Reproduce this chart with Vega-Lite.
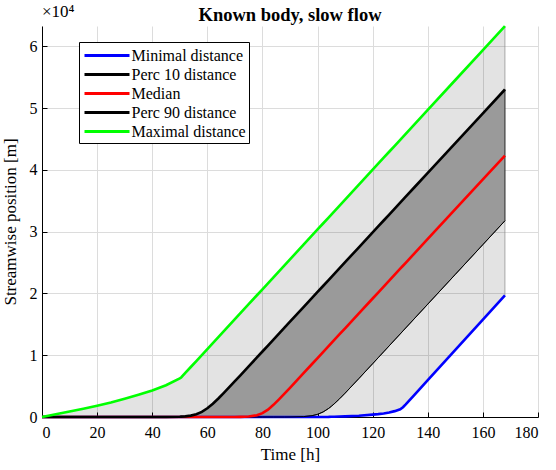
{
  "$schema": "https://vega.github.io/schema/vega-lite/v6.json",
  "width": 496,
  "height": 391,
  "autosize": {"type": "none"},
  "padding": {"left": 42, "top": 26, "right": 18, "bottom": 53},
  "background": "white",
  "title": {"text": "Known body, slow flow", "font": "Liberation Serif", "fontSize": 18.5, "fontWeight": "bold", "color": "#000", "anchor": "middle", "offset": 6, "dy": 27},
  "config": {
    "view": {"stroke": null},
    "axis": {"domainColor": "#000", "domainWidth": 1, "tickColor": "#000", "tickSize": -5, "tickWidth": 1, "gridColor": "#dcdcdc", "gridWidth": 1, "labelFont": "Liberation Serif", "labelFontSize": 16, "labelColor": "#000", "titleFont": "Liberation Serif", "titleFontSize": 17, "titleFontWeight": "normal", "titleColor": "#000"},
    "legend": {"orient": "none", "legendX": 37, "legendY": 16, "title": null, "fillColor": "white", "strokeColor": "#000", "padding": 3, "rowPadding": 0, "labelFont": "Liberation Serif", "labelFontSize": 16, "labelColor": "#000", "symbolType": "M-2.5,0H2.5", "symbolSize": 324, "symbolStrokeWidth": 3, "symbolOffset": 14.5, "labelOffset": 14}
  },
  "datasets": {
    "curves": [
      {"t": 0, "mn": 0, "p10": 0, "med": 0, "p90": 0, "mx": 0},
      {"t": 5, "mn": 0, "p10": 0, "med": 0, "p90": 0, "mx": 450},
      {"t": 10, "mn": 0, "p10": 0, "med": 0, "p90": 0, "mx": 900},
      {"t": 15, "mn": 0, "p10": 0, "med": 0, "p90": 0, "mx": 1350},
      {"t": 20, "mn": 0, "p10": 0, "med": 0, "p90": 0, "mx": 1830},
      {"t": 25, "mn": 0, "p10": 0, "med": 0, "p90": 0, "mx": 2350},
      {"t": 30, "mn": 0, "p10": 0, "med": 0, "p90": 0, "mx": 2950},
      {"t": 35, "mn": 0, "p10": 0, "med": 0, "p90": 0, "mx": 3600},
      {"t": 40, "mn": 0, "p10": 0, "med": 0, "p90": 0, "mx": 4300},
      {"t": 45, "mn": 0, "p10": 0, "med": 0, "p90": 0, "mx": 5150},
      {"t": 50, "mn": 0, "p10": 48, "med": 0, "p90": 0, "mx": 6250},
      {"t": 50.5, "mn": 0, "p10": 59, "med": 0, "p90": 0, "mx": 6400},
      {"t": 52, "mn": 0, "p10": 105, "med": 0, "p90": 0, "mx": 7126},
      {"t": 54, "mn": 0, "p10": 222, "med": 0, "p90": 0, "mx": 8094},
      {"t": 56, "mn": 0, "p10": 447, "med": 0, "p90": 0, "mx": 9062},
      {"t": 58, "mn": 0, "p10": 835, "med": 0, "p90": 0, "mx": 10030},
      {"t": 60, "mn": 0, "p10": 1411, "med": 0, "p90": 0, "mx": 10998},
      {"t": 62, "mn": 0, "p10": 2150, "med": 0, "p90": 0, "mx": 11966},
      {"t": 64, "mn": 0, "p10": 2997, "med": 0, "p90": 0, "mx": 12934},
      {"t": 66, "mn": 0, "p10": 3904, "med": 0, "p90": 0, "mx": 13902},
      {"t": 70, "mn": 0, "p10": 5794, "med": 0, "p90": 0, "mx": 15838},
      {"t": 72, "mn": 0, "p10": 6752, "med": 16, "p90": 0, "mx": 16806},
      {"t": 75, "mn": 0, "p10": 8194, "med": 69, "p90": 0, "mx": 18258},
      {"t": 78, "mn": 0, "p10": 9640, "med": 277, "p90": 0, "mx": 19710},
      {"t": 80, "mn": 0, "p10": 10604, "med": 621, "p90": 0, "mx": 20678},
      {"t": 82, "mn": 0, "p10": 11568, "med": 1196, "p90": 0, "mx": 21646},
      {"t": 84, "mn": 0, "p10": 12532, "med": 1966, "p90": 0, "mx": 22614},
      {"t": 86, "mn": 0, "p10": 13496, "med": 2847, "p90": 0, "mx": 23582},
      {"t": 88, "mn": 0, "p10": 14460, "med": 3779, "p90": 0, "mx": 24550},
      {"t": 90, "mn": 0, "p10": 15424, "med": 4731, "p90": 10, "mx": 25518},
      {"t": 95, "mn": 0, "p10": 17834, "med": 7134, "p90": 68, "mx": 27938},
      {"t": 98, "mn": 0, "p10": 19280, "med": 8580, "p90": 214, "mx": 29390},
      {"t": 100, "mn": 0, "p10": 20244, "med": 9544, "p90": 432, "mx": 30358},
      {"t": 102, "mn": 5, "p10": 21208, "med": 10508, "p90": 811, "mx": 31326},
      {"t": 104, "mn": 15, "p10": 22172, "med": 11472, "p90": 1378, "mx": 32294},
      {"t": 105, "mn": 30, "p10": 22654, "med": 11954, "p90": 1726, "mx": 32778},
      {"t": 106, "mn": 45, "p10": 23136, "med": 12436, "p90": 2110, "mx": 33262},
      {"t": 108, "mn": 70, "p10": 24100, "med": 13400, "p90": 2953, "mx": 34230},
      {"t": 110, "mn": 100, "p10": 25064, "med": 14364, "p90": 3858, "mx": 35198},
      {"t": 115, "mn": 200, "p10": 27474, "med": 16774, "p90": 6225, "mx": 37618},
      {"t": 120, "mn": 380, "p10": 29884, "med": 19184, "p90": 8628, "mx": 40038},
      {"t": 122, "mn": 470, "p10": 30848, "med": 20148, "p90": 9592, "mx": 41006},
      {"t": 124, "mn": 580, "p10": 31812, "med": 21112, "p90": 10556, "mx": 41974},
      {"t": 126, "mn": 720, "p10": 32776, "med": 22076, "p90": 11520, "mx": 42942},
      {"t": 128, "mn": 950, "p10": 33740, "med": 23040, "p90": 12484, "mx": 43910},
      {"t": 130, "mn": 1250, "p10": 34704, "med": 24004, "p90": 13448, "mx": 44878},
      {"t": 131, "mn": 1580, "p10": 35186, "med": 24486, "p90": 13930, "mx": 45362},
      {"t": 132, "mn": 2045, "p10": 35668, "med": 24968, "p90": 14412, "mx": 45846},
      {"t": 135, "mn": 3515, "p10": 37114, "med": 26414, "p90": 15858, "mx": 47298},
      {"t": 140, "mn": 5965, "p10": 39524, "med": 28824, "p90": 18268, "mx": 49718},
      {"t": 150, "mn": 10865, "p10": 44344, "med": 33644, "p90": 23088, "mx": 54558},
      {"t": 160, "mn": 15765, "p10": 49164, "med": 38464, "p90": 27908, "mx": 59398},
      {"t": 168, "mn": 19685, "p10": 53020, "med": 42320, "p90": 31764, "mx": 63270}
    ]
  },
  "layer": [
    {
      "data": {"name": "curves"},
      "mark": {"type": "area", "fill": "#000", "fillOpacity": 0.11, "stroke": "#888", "strokeWidth": 0.7},
      "encoding": {
        "x": {"field": "t", "type": "quantitative", "scale": {"domain": [0, 180], "nice": false, "zero": false}, "axis": {"values": [0, 20, 40, 60, 80, 100, 120, 140, 160, 180], "title": "Time [h]", "labelPadding": 12, "titlePadding": 6}},
        "y": {"field": "mn", "type": "quantitative", "scale": {"domain": [0, 63300], "nice": false}, "axis": {"values": [0, 10000, 20000, 30000, 40000, 50000, 60000], "labelExpr": "datum.value / 10000", "title": "Streamwise position [m]", "labelPadding": 10, "titlePadding": 10}},
        "y2": {"field": "mx"}
      }
    },
    {
      "data": {"name": "curves"},
      "mark": {"type": "area", "fill": "#9a9a9a", "stroke": "#000", "strokeWidth": 0.7},
      "encoding": {
        "x": {"field": "t", "type": "quantitative"},
        "y": {"field": "p90", "type": "quantitative"},
        "y2": {"field": "p10"}
      }
    },
    {
      "data": {"name": "curves"},
      "mark": {"type": "line", "strokeWidth": 2.6},
      "encoding": {
        "x": {"field": "t", "type": "quantitative"},
        "y": {"field": "mn", "type": "quantitative"},
        "color": {"datum": "Minimal distance", "type": "nominal", "scale": {"domain": ["Minimal distance", "Perc 10 distance", "Median", "Perc 90 distance", "Maximal distance"], "range": ["#0000ff", "#000000", "#ff0000", "#000000", "#00ff00"]}}
      }
    },
    {
      "data": {"name": "curves"},
      "mark": {"type": "line", "strokeWidth": 1},
      "encoding": {
        "x": {"field": "t", "type": "quantitative"},
        "y": {"field": "p90", "type": "quantitative"},
        "color": {"datum": "Perc 90 distance", "type": "nominal"}
      }
    },
    {
      "data": {"name": "curves"},
      "mark": {"type": "line", "strokeWidth": 2.6},
      "encoding": {
        "x": {"field": "t", "type": "quantitative"},
        "y": {"field": "med", "type": "quantitative"},
        "color": {"datum": "Median", "type": "nominal"}
      }
    },
    {
      "data": {"name": "curves"},
      "mark": {"type": "line", "strokeWidth": 2.6},
      "encoding": {
        "x": {"field": "t", "type": "quantitative"},
        "y": {"field": "p10", "type": "quantitative"},
        "color": {"datum": "Perc 10 distance", "type": "nominal"}
      }
    },
    {
      "data": {"name": "curves"},
      "mark": {"type": "line", "strokeWidth": 2.6},
      "encoding": {
        "x": {"field": "t", "type": "quantitative"},
        "y": {"field": "mx", "type": "quantitative"},
        "color": {"datum": "Maximal distance", "type": "nominal"}
      }
    },
    {
      "data": {"values": [{"label": "×10⁴"}]},
      "mark": {"type": "text", "align": "left", "baseline": "alphabetic", "font": "Liberation Serif", "fontSize": 17, "fill": "#000", "dy": -9},
      "encoding": {
        "x": {"datum": 0, "type": "quantitative"},
        "y": {"datum": 63300, "type": "quantitative"},
        "text": {"field": "label", "type": "nominal"}
      }
    }
  ]
}
